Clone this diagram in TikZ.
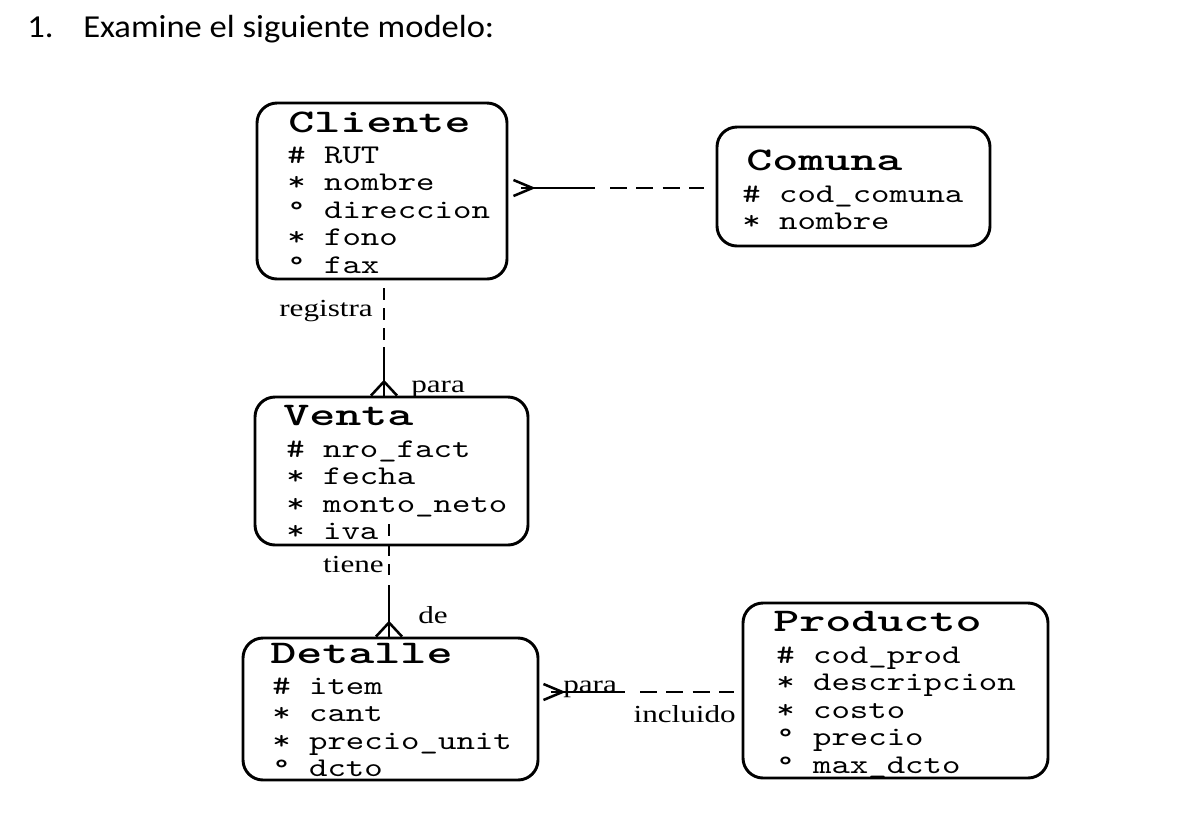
\documentclass[tikz,border=0pt]{standalone}
\usepackage{fontspec}
\setmainfont{Liberation Serif}
\newfontfamily\titlefont[FakeStretch=1.08]{Carlito}
\newfontfamily\attrfont[FakeStretch=1.3]{lmmono10-regular.otf}
\newfontfamily\entfont[FakeStretch=1.5]{lmmonolt10-bold.otf}
\newfontfamily\lblfont[FakeStretch=1.27]{Liberation Serif}
\usetikzlibrary{fit,calc}
\newcommand\attrlist[4]{%
  \foreach \t [count=\i from 0] in {#4}
    \node[attr] (#1-a\i) at ({#2},{#3+27.6*\i}) {\t};}
\begin{document}
\begin{tikzpicture}[x=0.75pt,y=-0.75pt,
  entity/.style={draw, line width=2.2pt, rounded corners=15pt, inner sep=0pt},
  ent/.style={font=\entfont\fontsize{24.8}{24.8}\selectfont, inner sep=0pt, anchor=base west},
  attr/.style={font=\attrfont\fontsize{20.25}{20.25}\selectfont, inner sep=0pt, anchor=base west},
  lbl/.style={font=\lblfont\fontsize{18.4}{18.4}\selectfont, inner sep=0pt},
  ttl/.style={font=\titlefont\fontsize{24}{24}\selectfont, inner sep=0pt, anchor=base west},
  conn/.style={line width=1.9pt},
  vdash/.style={conn, dash pattern=on 9pt off 6pt},
  hdash/.style={conn, dash pattern=on 12.75pt off 7pt}]
\fill[white] (0,0) rectangle (1185,833);
\useasboundingbox (0,0) rectangle (1185,833);

% heading
\node[ttl] (num) at (27,37) {1.};
\node[ttl] (title) at (83,37) {Examine el siguiente modelo:};

% entities
\node[entity, fit={(257,103) (507,279)}] (cliente) {};
\node[entity, fit={(717,127) (990,246)}] (comuna) {};
\node[entity, fit={(255,397) (528,545)}] (venta) {};
\node[entity, fit={(243,638) (538,780)}] (detalle) {};
\node[entity, fit={(743,603) (1048,778)}] (producto) {};

\node[ent] (cliente-t) at (288,132) {Cliente};
\attrlist{cliente}{287}{163}{\#\ RUT,*\ nombre,°\ direccion,*\ fono,°\ fax}
\node[ent] (comuna-t) at (746,170) {Comuna};
\attrlist{comuna}{742}{202}{\#\ cod\_comuna,*\ nombre}
\node[ent] (venta-t) at (283,425) {Venta};
\attrlist{venta}{286}{457}{\#\ nro\_fact,*\ fecha,*\ monto\_neto,*\ iva}
\node[ent] (detalle-t) at (270,663) {Detalle};
\attrlist{detalle}{272}{694}{\#\ item,*\ cant,*\ precio\_unit,°\ dcto}
\node[ent] (producto-t) at (773,631) {Producto};
\attrlist{producto}{776}{663}{\#\ cod\_prod,*\ descripcion,*\ costo,°\ precio,°\ max\_dcto}

% Cliente -- Comuna
\coordinate (cc) at (cliente.east |- 0,188);
\draw[conn] ($(cc)+(5,-8)$) -- ($(cc)+(24,0)$) -- ($(cc)+(5,8)$);
\draw[conn] ($(cc)+(13,0)$) -- (595,188);
\draw[hdash] (610,188) -- ($(comuna.west |- cc)+(-12,0)$);

% Cliente -- Venta
\coordinate (cvt) at (venta.north -| 384,0);
\draw[vdash] ($(cliente.south -| 384,0)+(0,8)$) -- (384,342);
\draw[conn] (384,347) -- (cvt);
\draw[conn] ($(cvt)+(-13,0)$) -- ($(cvt)+(0,-14)$) -- ($(cvt)+(13,0)$);
\node[lbl, anchor=base east] (l-registra) at (373,316) {registra};
\node[lbl, anchor=base west] (l-para1) at (411,392) {para};

% Venta -- Detalle
\coordinate (vdt) at (detalle.north -| 389,0);
\draw[vdash] ($(venta.south -| 389,0)+(0,-22)$) -- (389,575);
\draw[conn] (389,585) -- (vdt);
\draw[conn] ($(vdt)+(-13,0)$) -- ($(vdt)+(0,-14)$) -- ($(vdt)+(13,0)$);
\node[lbl, anchor=base east] (l-tiene) at (384,572) {tiene};
\node[lbl, anchor=base west] (l-de) at (418,623) {de};

% Detalle -- Producto
\coordinate (dp) at (detalle.east |- 0,692);
\draw[conn] ($(dp)+(4,-8)$) -- ($(dp)+(23,0)$) -- ($(dp)+(4,8)$);
\draw[conn] ($(dp)+(12,0)$) -- (625,692);
\draw[hdash] (640,692) -- ($(producto.west |- dp)+(-8,0)$);
\node[lbl, anchor=base west] (l-para2) at (563,692) {para};
\node[lbl, anchor=base east] (l-incluido) at (736,722) {incluido};
\end{tikzpicture}
\end{document}
